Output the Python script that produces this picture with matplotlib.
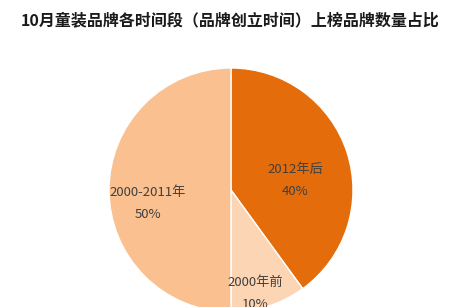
import numpy as np
import matplotlib
matplotlib.use("Agg")
import matplotlib.pyplot as plt

plt.rcParams['font.family'] = ['Noto Sans CJK SC', 'DejaVu Sans']

# ---- data ----
title = "10月童装品牌各时间段（品牌创立时间）上榜品牌数量占比"
categories = ["2012年后", "2000年前", "2000-2011年"]
shares = [40, 10, 50]

# ---- style ----
colors = ["#E46C0A", "#FCD5B5", "#FAC090"]
W, H = 460, 307
center = (231, H - 190)
radius = 122
# label placement: (distance in px from centre, angle offset in degrees from wedge mid)
label_place = [(65, -10), (106, -5), (84, 9)]

fig = plt.figure(figsize=(W / 100, H / 100), dpi=100)
ax = fig.add_axes([0, 0, 1, 1])
wedges, _ = ax.pie(shares, colors=colors, startangle=90, counterclock=False,
                   center=center, radius=radius,
                   wedgeprops=dict(edgecolor="white", linewidth=1.0))
ax.set_xlim(0, W)
ax.set_ylim(0, H)
ax.set_aspect("equal")
ax.axis("off")

for w, cat, val, (d, da) in zip(wedges, categories, shares, label_place):
    mid = np.deg2rad((w.theta1 + w.theta2) / 2 + da)
    x = center[0] + d * np.cos(mid)
    y = center[1] + d * np.sin(mid)
    ax.text(x, y + 11, cat, ha="center", va="center", fontsize=9.5, color="#404040")
    ax.text(x, y - 11, f"{val}%", ha="center", va="center", fontsize=9.5, color="#404040")

fig.text(0.5, 1 - 20 / H, title, ha="center", va="center", fontsize=11.5,
         fontweight="bold", color="#1a1a1a")

fig.savefig("out.png", dpi=100, facecolor="white")
